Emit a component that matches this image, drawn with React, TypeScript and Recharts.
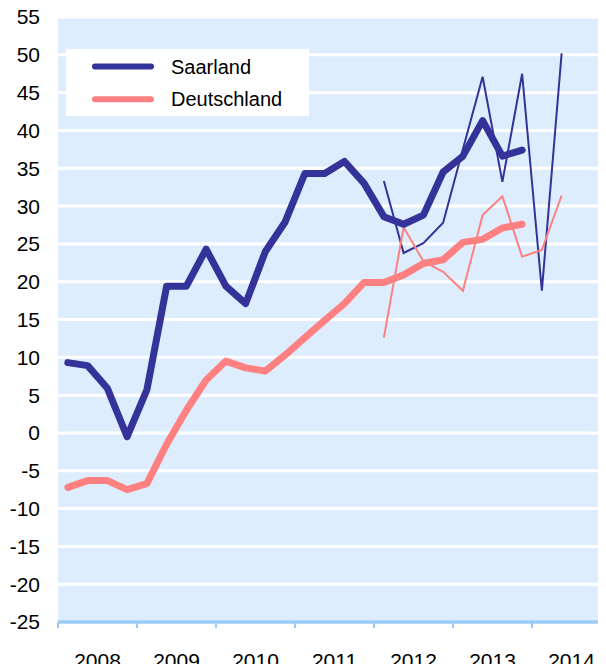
import React from 'react';
import { LineChart, Line, XAxis, YAxis, CartesianGrid, Legend } from 'recharts';

const quarters = [
  '2008 Q1', '2008 Q2', '2008 Q3', '2008 Q4',
  '2009 Q1', '2009 Q2', '2009 Q3', '2009 Q4',
  '2010 Q1', '2010 Q2', '2010 Q3', '2010 Q4',
  '2011 Q1', '2011 Q2', '2011 Q3', '2011 Q4',
  '2012 Q1', '2012 Q2', '2012 Q3', '2012 Q4',
  '2013 Q1', '2013 Q2', '2013 Q3', '2013 Q4',
  '2014 Q1', '2014 Q2',
];

const yearLabels = ['2008', '2009', '2010', '2011', '2012', '2013', '2014'];
const legendOrder = ['Saarland', 'Deutschland'];

// Smoothed (thick) series, 2008 Q1 – 2013 Q4
const saarlandTrend = [
  9.3, 8.9, 5.9, -0.5, 5.7, 19.4, 19.4, 24.3, 19.4, 17.1, 24.0, 27.9,
  34.3, 34.3, 35.9, 33.0, 28.6, 27.6, 28.8, 34.5, 36.6, 41.3, 36.6, 37.4,
];
const deutschlandTrend = [
  -7.2, -6.3, -6.3, -7.5, -6.7, -1.5, 3.0, 7.0, 9.5, 8.6, 8.2, 10.3,
  12.6, 14.9, 17.1, 19.9, 19.9, 20.9, 22.4, 22.9, 25.2, 25.6, 27.1, 27.6,
];

// Quarterly (thin) series, 2012 Q1 – 2014 Q2
const saarlandQuarterly = [33.3, 23.8, 25.1, 27.8, 37.5, 47.1, 33.2, 47.5, 18.8, 50.2];
const deutschlandQuarterly = [12.6, 27.2, 22.7, 21.3, 18.8, 28.8, 31.3, 23.3, 24.2, 31.4];
const quarterlyStart = 16;

const yTicks = [-25, -20, -15, -10, -5, 0, 5, 10, 15, 20, 25, 30, 35, 40, 45, 50, 55];
const yearBoundaryTicks = [0, 4, 8, 12, 16, 20, 24, 28];
const yearCenterTicks = [2, 6, 10, 14, 18, 22, 26];

const data = quarters.map((q, i) => ({
  quarter: q,
  pos: i + 0.5,
  saarlandTrend: i < saarlandTrend.length ? saarlandTrend[i] : null,
  deutschlandTrend: i < deutschlandTrend.length ? deutschlandTrend[i] : null,
  saarlandQuarterly: i >= quarterlyStart ? saarlandQuarterly[i - quarterlyStart] : null,
  deutschlandQuarterly: i >= quarterlyStart ? deutschlandQuarterly[i - quarterlyStart] : null,
}));

const FONT = '"Liberation Sans", Arial, sans-serif';
const BLUE = '#333399';
const PINK = '#FF8080';

const LegendBox = (props: any) => {
  const all = (props.payload || []).filter((p: any) => p.type !== 'none');
  const items = legendOrder
    .map((name) => all.find((p: any) => p.value === name))
    .filter(Boolean);
  return (
    <div style={{ width: 243, height: 67, background: '#fff' }}>
      <svg width={243} height={67} style={{ display: 'block' }}>
        {items.map((it: any, i: number) => (
          <g key={i}>
            <line x1={29} x2={85} y1={17.5 + i * 32.7} y2={17.5 + i * 32.7} stroke={it.color} strokeWidth={6} strokeLinecap="round" />
            <text x={105} y={17.5 + i * 32.7} dy="0.36em" fontSize={20} fontFamily={FONT} fill="#000">{it.value}</text>
          </g>
        ))}
      </svg>
    </div>
  );
};

export default function App() {
  return (
    <div style={{ margin: -8, width: 606, height: 672, overflow: 'hidden', background: '#fff' }}>
      <LineChart width={611} height={672} data={data} margin={{ top: 17, right: 0, bottom: 0, left: 0 }}>
        <CartesianGrid vertical={false} stroke="#fff" strokeWidth={3} fill="#DDEDFD" />
        <XAxis
          dataKey="pos"
          type="number"
          domain={[0, 28]}
          ticks={yearBoundaryTicks}
          interval={0}
          allowDataOverflow
          height={8}
          tickSize={6}
          tickFormatter={() => ''}
          axisLine={{ stroke: '#9CCBF5', strokeWidth: 3.5 }}
          tickLine={{ stroke: '#9CCBF5', strokeWidth: 2 }}
        />
        <XAxis
          xAxisId="years"
          dataKey="pos"
          type="number"
          domain={[0, 28]}
          ticks={yearCenterTicks}
          interval={0}
          allowDataOverflow
          height={42}
          axisLine={false}
          tickLine={false}
          tickSize={0}
          tickMargin={23}
          tickFormatter={(v: number) => yearLabels[(v - 2) / 4]}
          tick={{ fontSize: 21, fill: '#000', fontFamily: FONT }}
        />
        <YAxis
          type="number"
          domain={[-25, 55]}
          ticks={yTicks}
          width={58}
          axisLine={false}
          tickLine={false}
          tickSize={0}
          tickMargin={18}
          interval={0}
          tick={{ fontSize: 21, fill: '#000', fontFamily: FONT }}
        />
        <Legend
          content={<LegendBox />}
          layout="horizontal"
          verticalAlign="middle"
          align="center"
          wrapperStyle={{ left: 66, top: 49, width: 243, height: 67 }}
        />
        <Line dataKey="saarlandQuarterly" name="Saarland Q" stroke={BLUE} strokeWidth={2} dot={false} isAnimationActive={false} legendType="none" />
        <Line dataKey="deutschlandQuarterly" name="Deutschland Q" stroke={PINK} strokeWidth={2} dot={false} isAnimationActive={false} legendType="none" />
        <Line dataKey="saarlandTrend" name="Saarland" stroke={BLUE} strokeWidth={7} strokeLinecap="round" strokeLinejoin="round" dot={false} isAnimationActive={false} />
        <Line dataKey="deutschlandTrend" name="Deutschland" stroke={PINK} strokeWidth={7} strokeLinecap="round" strokeLinejoin="round" dot={false} isAnimationActive={false} />
      </LineChart>
    </div>
  );
}
